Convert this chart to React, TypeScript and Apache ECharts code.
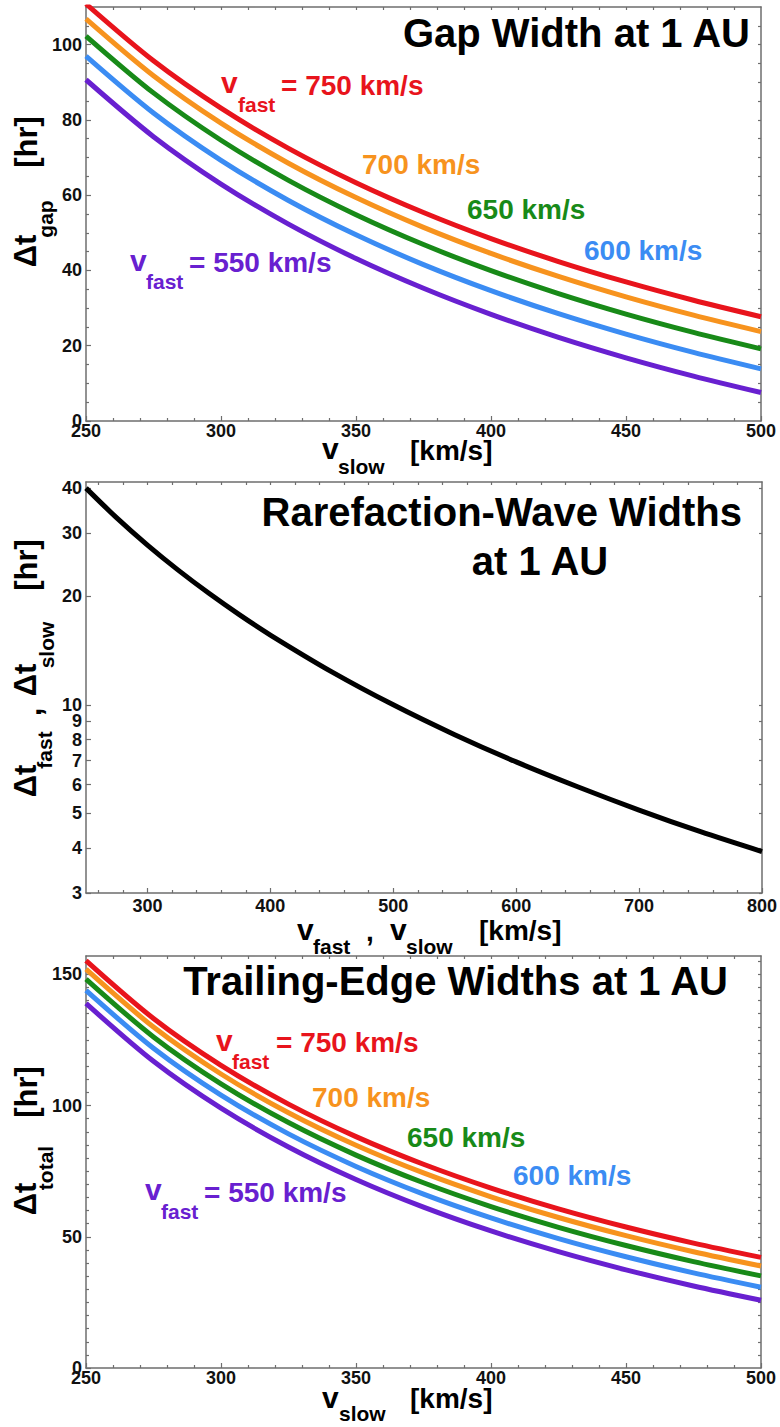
import React, { useEffect, useRef } from 'react';
import * as echarts from 'echarts';

// ---------- data ----------
const vSlow = [250, 275, 300, 325, 350, 375, 400, 425, 450, 475, 500];

// Gap width at 1 AU [hr]
const gapVf750 = [110.81, 95.7, 83.11, 72.45, 63.32, 55.41, 48.48, 42.37, 36.94, 32.08, 27.7];
const gapVf700 = [106.86, 91.75, 79.15, 68.5, 59.37, 51.45, 44.52, 38.41, 32.98, 28.12, 23.75];
const gapVf650 = [102.29, 87.18, 74.59, 63.93, 54.8, 46.88, 39.96, 33.85, 28.41, 23.55, 19.18];
const gapVf600 = [96.96, 81.85, 69.26, 58.6, 49.47, 41.55, 34.63, 28.52, 23.09, 18.23, 13.85];
const gapVf550 = [90.67, 75.55, 62.96, 52.31, 43.17, 35.26, 28.33, 22.22, 16.79, 11.93, 7.56];

// Rarefaction-wave widths [hr]
const vWave = [250, 275, 300, 325, 350, 375, 400, 450, 500, 550, 600, 650, 700, 750, 800];
const dtWave = [40, 33.06, 27.78, 23.67, 20.41, 17.78, 15.63, 12.35, 10, 8.26, 6.94, 5.92, 5.1, 4.44, 3.91];

// Trailing-edge widths [hr]
const totVf750 = [155.25, 133.2, 115.33, 100.56, 88.17, 77.63, 68.55, 60.65, 53.73, 47.6, 42.14];
const totVf700 = [151.96, 129.91, 112.03, 97.27, 84.88, 74.33, 65.25, 57.35, 50.43, 44.3, 38.85];
const totVf650 = [148.21, 126.16, 108.29, 93.52, 81.13, 70.58, 61.51, 53.61, 46.68, 40.55, 35.1];
const totVf600 = [143.9, 121.85, 103.98, 89.21, 76.82, 66.27, 57.2, 49.3, 42.38, 36.25, 30.79];
const totVf550 = [138.93, 116.87, 99.0, 84.24, 71.84, 61.3, 52.22, 44.32, 37.4, 31.27, 25.82];

// tick labels
const gapXLabels = [250, 300, 350, 400, 450, 500];
const gapYLabels = [0, 20, 40, 60, 80, 100];
const waveXLabels = [300, 400, 500, 600, 700, 800];
const waveYLabels = [3, 4, 5, 6, 7, 8, 9, 10, 20, 30, 40];
const totYLabels = [0, 50, 100, 150];

// ---------- styling ----------
const FF = '"Liberation Sans", Arial, Helvetica, sans-serif';
const RED = '#e8141c';
const ORANGE = '#f7931e';
const GREEN = '#188a18';
const BLUE = '#3b8cf3';
const PURPLE = '#6820d0';
const AX = '#6e6e6e';

const range = (a: number, b: number, s: number) => {
  const r: number[] = [];
  for (let v = a; v <= b + 1e-9; v += s) r.push(Math.round(v * 1000) / 1000);
  return r;
};
const minorOf = (a: number, b: number, s: number, major: number[]) =>
  range(a, b, s).filter((v) => !major.includes(v));

const labelStyle = { show: true, fontSize: 18, fontWeight: 'bold', color: '#111', fontFamily: FF };

const tickAxis = (
  gridIndex: number, position: string, type: string, min: number, max: number,
  vals: number[], len: number, showLine: boolean
) => ({
  type, gridIndex, position, min, max,
  ...(type === 'log' ? { logBase: 10 } : {}),
  axisLine: { show: showLine, onZero: false, lineStyle: { color: AX, width: 1.5 } },
  axisTick: { show: true, inside: true, length: len, customValues: vals, lineStyle: { color: AX, width: 1.2 } },
  minorTick: { show: false },
  axisLabel: { show: false },
  splitLine: { show: false },
  minorSplitLine: { show: false },
});

const labelAxis = (
  gridIndex: number, position: string, type: string, min: number, max: number,
  labels: number[], margin: number
) => ({
  ...tickAxis(gridIndex, position, type, min, max, labels, 5, true),
  axisLabel: { ...labelStyle, margin, customValues: labels },
});

const line = (name: string, xs: number[], ys: number[], color: string, xi: number, yi: number, w = 5) => ({
  type: 'line',
  name,
  data: xs.map((x, i) => [x, ys[i]]),
  xAxisIndex: xi,
  yAxisIndex: yi,
  smooth: 0.3,
  showSymbol: false,
  symbol: 'none',
  clip: true,
  silent: true,
  lineStyle: { color, width: w },
  itemStyle: { color },
});

const ROT = Math.PI / 2;
const T = (x: number, y: number, text: string, size: number, fill = '#000', align = 'left', rotation = 0) => ({
  type: 'text',
  x, y, rotation,
  silent: true,
  z: 10,
  style: { text, fontSize: size, fontWeight: 'bold', fontFamily: FF, fill, align, verticalAlign: 'middle' },
});

const option: any = {
  animation: false,
  backgroundColor: '#ffffff',
  grid: [
    { left: 86, top: 7, width: 675, height: 414, outerBoundsMode: 'none', containLabel: false },
    { left: 86, top: 482, width: 676, height: 411, outerBoundsMode: 'none', containLabel: false },
    { left: 86, top: 956, width: 675, height: 412, outerBoundsMode: 'none', containLabel: false },
  ],
  xAxis: [
    labelAxis(0, 'bottom', 'value', 250, 500, gapXLabels, 1),
    tickAxis(0, 'bottom', 'value', 250, 500, minorOf(250, 500, 10, gapXLabels), 3, false),
    tickAxis(0, 'top', 'value', 250, 500, range(260, 490, 10), 3, true),
    labelAxis(1, 'bottom', 'value', 250, 800, waveXLabels, 4),
    tickAxis(1, 'bottom', 'value', 250, 800, minorOf(260, 780, 20, waveXLabels), 3, false),
    tickAxis(1, 'top', 'value', 250, 800, range(260, 780, 20), 3, true),
    labelAxis(2, 'bottom', 'value', 250, 500, gapXLabels, 1),
    tickAxis(2, 'bottom', 'value', 250, 500, minorOf(250, 500, 10, gapXLabels), 3, false),
    tickAxis(2, 'top', 'value', 250, 500, range(260, 490, 10), 3, true),
  ],
  yAxis: [
    labelAxis(0, 'left', 'value', 0, 110, gapYLabels, 4),
    tickAxis(0, 'left', 'value', 0, 110, minorOf(0, 105, 5, gapYLabels), 3, false),
    tickAxis(0, 'right', 'value', 0, 110, range(5, 105, 5), 3, true),
    labelAxis(1, 'left', 'log', 3, 41.6, waveYLabels, 4),
    tickAxis(1, 'right', 'log', 3, 41.6, waveYLabels, 3, true),
    labelAxis(2, 'left', 'value', 0, 157, totYLabels, 4),
    tickAxis(2, 'left', 'value', 0, 157, minorOf(0, 155, 5, totYLabels), 3, false),
    tickAxis(2, 'right', 'value', 0, 157, range(5, 155, 5), 3, true),
  ],
  series: [
    line('gap 550', vSlow, gapVf550, PURPLE, 0, 0),
    line('gap 600', vSlow, gapVf600, BLUE, 0, 0),
    line('gap 650', vSlow, gapVf650, GREEN, 0, 0),
    line('gap 700', vSlow, gapVf700, ORANGE, 0, 0),
    line('gap 750', vSlow, gapVf750, RED, 0, 0),
    line('rarefaction', vWave, dtWave, '#000000', 3, 3, 5),
    line('total 550', vSlow, totVf550, PURPLE, 6, 5),
    line('total 600', vSlow, totVf600, BLUE, 6, 5),
    line('total 650', vSlow, totVf650, GREEN, 6, 5),
    line('total 700', vSlow, totVf700, ORANGE, 6, 5),
    line('total 750', vSlow, totVf750, RED, 6, 5),
  ],
  graphic: [
    // ---- panel 1 ----
    T(750, 33, 'Gap Width at 1 AU', 40, '#000', 'right'),
    T(221, 82, 'v', 30, RED),
    T(238, 104, 'fast', 21, RED),
    T(281, 85, '= 750 km/s', 28, RED),
    T(362, 164, '700 km/s', 28, ORANGE),
    T(467, 209, '650 km/s', 28, GREEN),
    T(584, 250, '600 km/s', 28, BLUE),
    T(130, 260, 'v', 30, PURPLE),
    T(146, 281, 'fast', 21, PURPLE),
    T(189, 262, '= 550 km/s', 28, PURPLE),
    T(26, 142, '[hr]', 31, '#000', 'center', ROT),
    T(25, 251, 'Δt', 31, '#000', 'center', ROT),
    T(45, 219, 'gap', 21, '#000', 'center', ROT),
    T(322, 448, 'v', 30),
    T(338, 466, 'slow', 21),
    T(410, 450, '[km/s]', 28),
    // ---- panel 2 ----
    T(742, 512, 'Rarefaction-Wave Widths', 40, '#000', 'right'),
    T(540, 561, 'at 1 AU', 40, '#000', 'center'),
    T(26, 565, '[hr]', 31, '#000', 'center', ROT),
    T(25, 680, 'Δt', 31, '#000', 'center', ROT),
    T(46, 645, 'slow', 21, '#000', 'center', ROT),
    T(30, 712, ',', 31, '#000', 'center', ROT),
    T(25, 781, 'Δt', 31, '#000', 'center', ROT),
    T(44, 750, 'fast', 21, '#000', 'center', ROT),
    T(297, 929, 'v', 30),
    T(313, 946, 'fast', 21),
    T(366, 931, ',', 28),
    T(390, 929, 'v', 30),
    T(406, 946, 'slow', 21),
    T(479, 930, '[km/s]', 28),
    // ---- panel 3 ----
    T(728, 981, 'Trailing-Edge Widths at 1 AU', 40, '#000', 'right'),
    T(216, 1040, 'v', 30, RED),
    T(232, 1061, 'fast', 21, RED),
    T(276, 1042, '= 750 km/s', 28, RED),
    T(312, 1097, '700 km/s', 28, ORANGE),
    T(407, 1137, '650 km/s', 28, GREEN),
    T(513, 1175, '600 km/s', 28, BLUE),
    T(145, 1189, 'v', 30, PURPLE),
    T(161, 1211, 'fast', 21, PURPLE),
    T(204, 1192, '= 550 km/s', 28, PURPLE),
    T(26, 1092, '[hr]', 31, '#000', 'center', ROT),
    T(25, 1199, 'Δt', 31, '#000', 'center', ROT),
    T(45, 1168, 'total', 21, '#000', 'center', ROT),
    T(322, 1397, 'v', 30),
    T(339, 1413, 'slow', 21),
    T(410, 1398, '[km/s]', 28),
  ],
};

export default function App() {
  const ref = useRef<HTMLDivElement>(null);
  useEffect(() => {
    if (!ref.current) return;
    const chart = echarts.init(ref.current, null, { renderer: 'svg', width: 780, height: 1427 });
    chart.setOption(option);
    return () => chart.dispose();
  }, []);
  return (
    <div
      ref={ref}
      style={{ position: 'absolute', left: 0, top: 0, width: 780, height: 1427, background: '#ffffff' }}
    />
  );
}
